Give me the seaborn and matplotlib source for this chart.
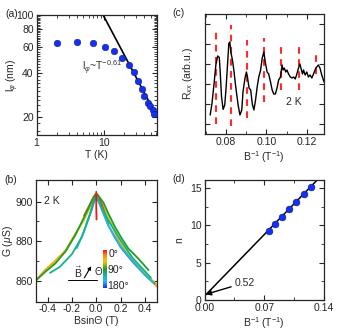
import numpy as np
import pandas as pd
import matplotlib
matplotlib.use("Agg")
import matplotlib.pyplot as plt
import matplotlib.ticker as mticker
from matplotlib.colors import LinearSegmentedColormap
import seaborn as sns

# ---------------- data ----------------
# (a) dephasing length vs T
a_T = [2, 4, 7, 10.6, 14.4, 18.7, 23.5, 27.9, 32.7, 36.7, 40.2, 45.5, 49.3, 53.4, 56.5]
a_l = [64.5, 64.9, 64.5, 60.5, 56.8, 50.3, 45.5, 40.7, 35.4, 31.1, 28.0, 24.7, 23.7, 22.2, 20.8]
a_fit_T = [9.8, 62]
a_fit_l = [100, 20]

# (c) Rxx oscillation vs 1/B
c_x = [0.0723, 0.0732, 0.0743, 0.0751, 0.0760, 0.0768, 0.0772, 0.0779, 0.0787, 0.0795,
       0.0802, 0.0809, 0.0815, 0.0820, 0.0825, 0.0833, 0.0841, 0.0849, 0.0861, 0.0870,
       0.0879, 0.0885, 0.0895, 0.0902, 0.0907, 0.0915, 0.0923, 0.0931, 0.0939, 0.0947,
       0.0955, 0.0963, 0.0972, 0.0980, 0.0988, 0.0995, 0.1004, 0.1012, 0.1021, 0.1029,
       0.1037, 0.1045, 0.1053, 0.1061, 0.1070, 0.1078, 0.1083, 0.1089, 0.1096, 0.1102,
       0.1110, 0.1119, 0.1127, 0.1135, 0.1143, 0.1151, 0.1159, 0.1166, 0.1171, 0.1179,
       0.1184, 0.1192, 0.1200, 0.1208, 0.1216, 0.1225, 0.1233, 0.1245, 0.1257, 0.1265,
       0.1274, 0.1285]
c_y = [0.95, 1.53, 2.6, 3.45, 3.9, 3.83, 3.2, 1.87, 1.23, 1.45,
       2.37, 3.53, 4.53, 4.6, 4.1, 3.7, 3.1, 2.37, 1.45, 0.95,
       1.2, 2.1, 2.8, 3.1, 2.85, 2.3, 2.2, 1.5, 1.2, 1.7,
       2.35, 2.85, 3.2, 3.8, 4.1, 3.6, 3.1, 3.0, 2.6, 2.2,
       2.0, 2.0, 2.3, 2.7, 2.85, 3.45, 3.2, 3.3, 3.1, 3.2,
       3.0, 2.85, 2.8, 2.85, 2.75, 3.0, 3.3, 3.5, 3.3, 3.0,
       3.2, 2.95, 3.1, 2.85, 2.95, 2.8, 3.0, 3.3, 3.45, 3.3,
       2.95, 2.6]
c_dash_x = [0.0753, 0.0826, 0.0906, 0.0988, 0.1073, 0.1160, 0.1245]
c_dash_top = [5.1, 5.45, 4.7, 4.8, 4.6, 4.4, 4.1]
c_dash_bot = [0.5, 0.4, 0.8, 1.6, 2.2, 2.2, 3.0]

# (b) G vs B sin(theta) for several angles
b_angles = [0, 10, 30, 55, 90, 115, 140, 160]
b_x = [
    [0.0, 0.0, 0.002],
    [-0.1, -0.05, -0.02, 0.0, 0.02, 0.05, 0.1],
    [-0.5, -0.42, -0.34, -0.25, -0.17, -0.1, -0.05, -0.02, 0.0, 0.02, 0.05, 0.1, 0.2, 0.3, 0.4, 0.5],
    [-0.45, -0.34, -0.25, -0.17, -0.1, -0.05, -0.02, 0.0, 0.02, 0.05, 0.1, 0.2, 0.3, 0.4, 0.5],
    [-0.5, -0.418, -0.336, -0.255, -0.173, -0.118, -0.064, -0.03, -0.01, 0.01, 0.03, 0.06, 0.099, 0.154, 0.209, 0.263, 0.345, 0.43],
    [-0.38, -0.3, -0.2, -0.12, -0.06, -0.02, 0.0, 0.02, 0.05, 0.1, 0.2, 0.3, 0.45],
    [-0.16, -0.1, -0.05, -0.02, 0.0, 0.02, 0.05, 0.1, 0.15, 0.2, 0.3, 0.4, 0.47],
    [-0.08, -0.04, -0.015, 0.0, 0.02, 0.05, 0.1, 0.2, 0.3, 0.4, 0.48],
]
b_G = [
    [905, 898, 891],
    [893, 899, 902.5, 904, 902.5, 898, 888.5],
    [860, 865.5, 870, 875.5, 884, 891, 898, 902.5, 903.8, 902.3, 898.5, 891.5, 878.5, 869.5, 863.5, 857],
    [863, 869.5, 875, 883.5, 891, 897.5, 901.8, 903.3, 901.8, 898.5, 892, 879.5, 870.5, 864, 858],
    [860, 864.6, 868.8, 874.7, 883.1, 889.9, 896.7, 901.2, 903.6, 903.7, 902, 899.5, 894.1, 887.3, 881.5, 876.4, 871.3, 865.4],
    [864, 867, 873.5, 882, 892, 900.5, 902.8, 900.8, 896.5, 890.5, 880.5, 871.5, 861.5],
    [876.5, 885, 894, 900.2, 902.5, 900.2, 895.5, 888, 882, 877.5, 870, 863, 859],
    [889, 895.5, 900.5, 902, 900, 895.5, 888, 877, 869.5, 863, 858.5],
]

# (d) Landau level index vs 1/B
d_x = [0.0753, 0.0826, 0.0906, 0.0988, 0.1073, 0.1160, 0.1245]
d_n = [9.3, 10.2, 11.2, 12.2, 13.2, 14.2, 15.2]
d_intercept = 0.52
d_slope = 118.0
d_fit_x = [0.0, 0.14]

# ---------------- style ----------------
sns.set_style("ticks")
plt.rcParams["font.family"] = ["Liberation Sans", "DejaVu Sans"]
plt.rcParams["mathtext.fontset"] = "custom"
plt.rcParams["mathtext.rm"] = "Liberation Sans"
plt.rcParams["mathtext.it"] = "Liberation Sans:italic"
plt.rcParams.update({
    "xtick.direction": "in", "ytick.direction": "in",
    "xtick.top": True, "ytick.right": True,
    "xtick.major.size": 3.5, "ytick.major.size": 3.5,
    "xtick.minor.size": 2, "ytick.minor.size": 2,
    "xtick.major.width": 0.8, "ytick.major.width": 0.8,
    "axes.linewidth": 0.9, "font.size": 7.5,
    "xtick.labelsize": 7.5, "ytick.labelsize": 7.5,
    "axes.labelsize": 7.5,
    "xtick.major.pad": 2, "ytick.major.pad": 2,
    "axes.labelpad": 1.5,
})

W, H = 337, 334
fig = plt.figure(figsize=(W / 100, H / 100), dpi=100)

def box(l, t, r, b):
    return [l / W, (H - b) / H, (r - l) / W, (b - t) / H]

ax_a = fig.add_axes(box(36.5, 15, 157, 135))
ax_c = fig.add_axes(box(204.5, 14, 324, 134))
ax_b = fig.add_axes(box(35.5, 180, 157, 301.5))
ax_d = fig.add_axes(box(204.5, 180, 324, 300))

blue = "#1530f0"

# ---------------- (a) ----------------
ax = ax_a
ax.set_xscale("log")
ax.set_yscale("log")
sns.lineplot(x=a_fit_T, y=a_fit_l, ax=ax, color="black", lw=1.2, estimator=None, sort=False)
sns.scatterplot(x=a_T, y=a_l, ax=ax, color=blue, s=22, edgecolor="#0a1a90", linewidth=0.4, zorder=3)
ax.set_xlim(1, 62)
ax.set_ylim(15, 100)
ax.xaxis.set_major_locator(mticker.FixedLocator([1, 10]))
ax.xaxis.set_major_formatter(mticker.FixedFormatter(["1", "10"]))
ax.xaxis.set_minor_locator(mticker.FixedLocator([2, 3, 4, 5, 6, 7, 8, 9, 20, 30, 40, 50, 60]))
ax.xaxis.set_minor_formatter(mticker.NullFormatter())
ax.yaxis.set_major_locator(mticker.FixedLocator([20, 40, 60, 80, 100]))
ax.yaxis.set_major_formatter(mticker.FixedFormatter(["20", "40", "60", "80", "100"]))
ax.yaxis.set_minor_locator(mticker.FixedLocator([16, 18, 22, 24, 26, 28, 30, 32, 34, 36, 38, 42, 44, 46, 48, 50,
                                                 52, 54, 56, 58, 62, 64, 66, 68, 70, 72, 74, 76, 78, 82, 84, 86, 88, 90, 92, 94, 96, 98]))
ax.yaxis.set_minor_formatter(mticker.NullFormatter())
ax.set_xlabel("T (K)")
ax.set_ylabel(r"l$_\varphi$ (nm)")
ax.yaxis.set_label_coords(-0.13, 0.5)
ax.text(0.375, 0.53, r"l$_\varphi$~T$^{-0.61}$", transform=ax.transAxes, fontsize=7.5, color="#333333")

# ---------------- (c) ----------------
ax = ax_c
ax.vlines(c_dash_x, c_dash_bot, c_dash_top, colors="#ff2a2a", lw=1.5, linestyles=(0, (3.2, 2.6)), zorder=1)
sns.lineplot(x=c_x, y=c_y, ax=ax, color="black", lw=1.0, estimator=None, sort=False, zorder=2)
ax.set_xlim(0.0695, 0.1285)
ax.set_ylim(0, 6)
ax.xaxis.set_major_locator(mticker.FixedLocator([0.08, 0.10, 0.12]))
ax.xaxis.set_major_formatter(mticker.FixedFormatter(["0.08", "0.10", "0.12"]))
ax.xaxis.set_minor_locator(mticker.FixedLocator([0.07, 0.09, 0.11]))
ax.yaxis.set_major_locator(mticker.FixedLocator([0.5, 1.5, 2.5, 3.5, 4.5, 5.5]))
ax.yaxis.set_major_formatter(mticker.NullFormatter())
ax.set_xlabel(r"B$^{-1}$ (T$^{-1}$)")
ax.set_ylabel(r"R$_{xx}$ (arb.u.)", labelpad=5)
ax.text(0.1095, 1.45, "2 K", fontsize=7.5)

# ---------------- (b) ----------------
ax = ax_b
cmap = LinearSegmentedColormap.from_list(
    "angle", [(0.0, "#ff1010"), (0.15, "#ff8c1a"), (0.3, "#e6d000"), (0.5, "#1e9e28"),
              (0.68, "#10b8a8"), (0.82, "#30b4f0"), (1.0, "#1428ff")])
norm = matplotlib.colors.Normalize(0, 180)
draw_order = [2, 3, 1, 7, 6, 5, 4, 0]
for i in draw_order:
    sns.lineplot(x=b_x[i], y=b_G[i], ax=ax, color=cmap(norm(b_angles[i])), lw=1.3,
                 estimator=None, sort=False)
ax.set_xlim(-0.5, 0.5)
ax.set_ylim(849.5, 911)
ax.xaxis.set_major_locator(mticker.FixedLocator([-0.4, -0.2, 0.0, 0.2, 0.4]))
ax.xaxis.set_major_formatter(mticker.FixedFormatter(["-0.4", "-0.2", "0.0", "0.2", "0.4"]))
ax.yaxis.set_major_locator(mticker.FixedLocator([860, 880, 900]))
ax.yaxis.set_major_formatter(mticker.FixedFormatter(["860", "880", "900"]))
ax.yaxis.set_minor_locator(mticker.FixedLocator([870, 890]))
ax.set_xlabel("Bsin\u0398 (T)")
ax.set_ylabel(r"G ($\mu$S)")
ax.yaxis.set_label_coords(-0.165, 0.5)
ax.text(0.07, 0.80, "2 K", transform=ax.transAxes, fontsize=7.5)
# inset colorbar
cax = ax.inset_axes([0.558, 0.11, 0.028, 0.315])
sm = matplotlib.cm.ScalarMappable(norm=norm, cmap=cmap)
cb = fig.colorbar(sm, cax=cax)
cb.outline.set_visible(False)
cax.invert_yaxis()
cax.set_yticks([])
cax.tick_params(which="both", length=0)
ax.text(0.598, 0.395, "0\u00b0", transform=ax.transAxes, fontsize=7.5, va="center")
ax.text(0.592, 0.262, "90\u00b0", transform=ax.transAxes, fontsize=7.5, va="center")
ax.text(0.592, 0.13, "180\u00b0", transform=ax.transAxes, fontsize=7.5, va="center")
# angle diagram
ax.plot([0.27, 0.51], [0.175, 0.175], transform=ax.transAxes, color="black", lw=0.7)
ax.annotate("", xy=(0.47, 0.31), xytext=(0.39, 0.175), xycoords="axes fraction",
            arrowprops=dict(arrowstyle="-|>", color="black", lw=0.8, mutation_scale=5))
ax.text(0.355, 0.19, r"$\vec{\mathrm{B}}$", transform=ax.transAxes, fontsize=7.5, ha="center")
ax.text(0.485, 0.24, "\u0398", transform=ax.transAxes, fontsize=7, ha="left", va="center")

# ---------------- (d) ----------------
ax = ax_d
fit_n = [d_intercept + d_slope * x for x in d_fit_x]
sns.lineplot(x=d_fit_x, y=fit_n, ax=ax, color="black", lw=1.1, estimator=None, sort=False)
sns.scatterplot(x=d_x, y=d_n, ax=ax, color=blue, s=24, edgecolor="#0a1a90", linewidth=0.4, zorder=3)
ax.set_xlim(0, 0.14)
ax.set_ylim(0, 16.1)
ax.xaxis.set_major_locator(mticker.FixedLocator([0.0, 0.07, 0.14]))
ax.xaxis.set_major_formatter(mticker.FixedFormatter(["0.00", "0.07", "0.14"]))
ax.xaxis.set_minor_locator(mticker.FixedLocator([0.035, 0.105]))
ax.yaxis.set_major_locator(mticker.FixedLocator([0, 5, 10, 15]))
ax.yaxis.set_major_formatter(mticker.FixedFormatter(["0", "5", "10", "15"]))
ax.yaxis.set_minor_locator(mticker.FixedLocator([2.5, 7.5, 12.5]))
ax.set_xlabel(r"B$^{-1}$ (T$^{-1}$)")
ax.set_ylabel("n", labelpad=4)
ax.annotate("0.52", xy=(0.0012, 0.75), xytext=(0.035, 1.9), fontsize=7.5,
            arrowprops=dict(arrowstyle="-|>", color="black", lw=1.0, mutation_scale=8,
                            shrinkA=0, shrinkB=0, relpos=(0, 0.2)))

# panel labels
fig.text(5 / W, 1 - 17 / H, "(a)", fontsize=7.5)
fig.text(172 / W, 1 - 16 / H, "(c)", fontsize=7.5)
fig.text(4 / W, 1 - 183 / H, "(b)", fontsize=7.5)
fig.text(172 / W, 1 - 182 / H, "(d)", fontsize=7.5)

fig.savefig("out.png", dpi=100)
